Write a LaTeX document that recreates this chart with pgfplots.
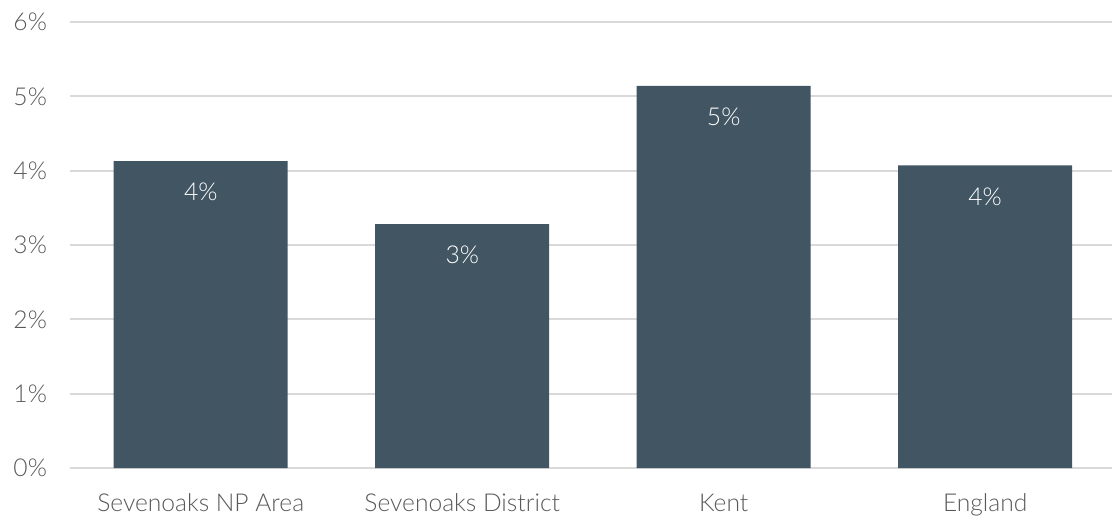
\documentclass[border=0pt]{standalone}
\usepackage{fontspec}
\setmainfont{Lato}[UprightFont=* Light]
\usepackage{pgfplots}
\pgfplotsset{compat=1.18}
\definecolor{barc}{HTML}{425563}
\definecolor{txt}{HTML}{595959}
\definecolor{gridc}{HTML}{D9D9D9}
\begin{document}
\begin{tikzpicture}
\begin{axis}[
  scale only axis,
  width=521pt, height=223pt,
  xmin=-0.5, xmax=3.485,
  ymin=0, ymax=6,
  ytick={0,1,2,3,4,5,6},
  yticklabel={\pgfmathprintnumber{\tick}\%},
  /pgf/number format/assume math mode=true,
  xtick={0,1,2,3},
  xticklabels={Sevenoaks NP Area, Sevenoaks District, Kent, England},
  axis x line*=bottom,
  axis y line*=left,
  y axis line style={draw=none},
  ymajorgrids,
  grid style={gridc, line width=1pt},
  x axis line style={gridc, line width=1pt},
  major tick length=0pt,
  tick label style={font=\fontsize{12.3}{14}\selectfont, text=txt},
  yticklabel style={xshift=-8pt},
  xticklabel style={yshift=-9.5pt},
  clip=false,
]
\addplot[ybar, bar width=87pt, fill=barc, draw=none,
  nodes near coords={\pgfmathprintnumber[fixed,precision=0]{\pgfplotspointmeta}\%},
  every node near coord/.style={anchor=north, yshift=-7.5pt, text=white, font=\fontsize{12.3}{14}\selectfont, /pgf/number format/assume math mode=true}]
coordinates {(0,4.13) (1,3.28) (2,5.14) (3,4.07)};
\end{axis}
\pgfresetboundingbox
\path ([shift={(-35pt,-25.5pt)}]current axis.south west) rectangle ([shift={(0pt,11pt)}]current axis.north east);
\end{tikzpicture}
\end{document}
